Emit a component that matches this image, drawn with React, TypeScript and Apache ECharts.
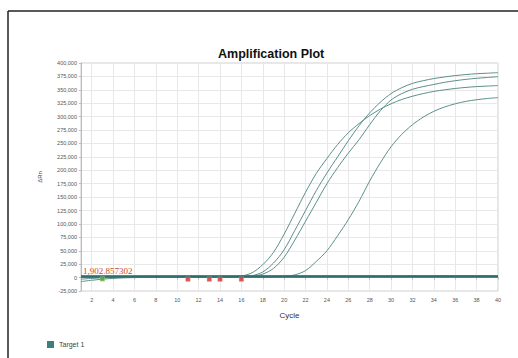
import React, { useEffect, useRef } from "react";
import * as echarts from "echarts";

const cycles = [1, 2, 3, 4, 5, 6, 7, 8, 9, 10, 11, 12, 13, 14, 15, 16, 17, 18, 19, 20, 21, 22, 23, 24, 25, 26, 27, 28, 29, 30, 31, 32, 33, 34, 35, 36, 37, 38, 39, 40];
const xTickLabels = [2, 4, 6, 8, 10, 12, 14, 16, 18, 20, 22, 24, 26, 28, 30, 32, 34, 36, 38, 40];

const curveA = [800, 900, 1000, 1000, 1100, 1000, 1100, 1200, 1100, 1200, 1200, 1300, 1300, 1400, 1500, 2800, 9000, 24000, 47000, 81000, 120000, 159000, 194000, 222000, 248000, 270000, 287000, 302000, 314000, 324000, 332000, 338000, 343000, 347000, 350000, 352500, 354500, 356000, 357000, 358000];
const curveB = [1200, 1300, 1300, 1400, 1400, 1400, 1500, 1500, 1400, 1500, 1500, 1500, 1600, 1500, 1500, 1700, 3500, 10500, 27000, 52000, 88000, 125000, 162000, 195000, 225000, 255000, 283000, 307000, 327000, 343000, 354000, 362000, 367000, 371000, 374000, 376500, 378500, 380000, 381000, 382000];
const curveC = [-3000, -1500, -600, -200, 200, 400, 500, 600, 700, 700, 800, 900, 900, 1000, 1100, 1300, 2500, 6500, 17000, 38000, 70000, 105000, 140000, 175000, 205000, 232000, 257000, 285000, 311000, 331000, 343000, 351000, 356000, 360000, 364000, 367000, 369500, 371500, 373000, 374500];
const curveD = [-7500, -5000, -3000, -1500, -500, 0, 200, 300, 300, 400, 500, 500, 600, 600, 700, 800, 900, 1100, 1400, 2200, 5000, 13000, 30000, 50000, 78000, 108000, 142000, 180000, 214000, 244000, 267000, 285000, 299000, 310000, 318000, 324000, 328500, 331500, 333800, 335500];
const flatWell1 = [1500, 1600, 1500, 1600, 1500, 1500, 1600, 1700, 1600, 1600, 1700, 1600, 1700, 1700, 1600, 1700, 1800, 1700, 1800, 1800, 1700, 1800, 1900, 1800, 1900, 1900, 1800, 1900, 2000, 1900, 2000, 2000, 1900, 2000, 2100, 2000, 2100, 2100, 2000, 2100];
const flatWell2 = [2600, 2700, 2700, 2800, 2700, 2800, 2800, 2900, 2800, 2900, 2900, 3000, 2900, 3000, 3000, 3100, 3000, 3100, 3100, 3200, 3100, 3200, 3200, 3300, 3200, 3300, 3300, 3400, 3300, 3400, 3400, 3500, 3400, 3500, 3500, 3500, 3600, 3500, 3600, 3600];

const threshold = 1902.857302;
const thresholdLabel = "1,902.857302";
const baselineEndCycles = [11, 13, 14, 16];
const baselineEndLevels = [-3000, -3000, -3000, -3000];
const baselineStartCycles = [3];
const baselineStartLevels = [-2500];

const curves = [curveA, curveB, curveC, curveD, flatWell1, flatWell2];

const CURVE_COLOR = "#5c8f8a";

export default function App() {
  const ref = useRef<HTMLDivElement>(null);

  useEffect(() => {
    if (!ref.current) return;
    const chart = echarts.init(ref.current, null, { renderer: "svg" });
    const lineSeries = curves.map((vals, i) => ({
      name: "Target 1",
      type: "line",
      data: cycles.map((c, j) => [c, vals[j]]),
      showSymbol: false,
      symbol: "none",
      lineStyle: { color: CURVE_COLOR, width: 1 },
      itemStyle: { color: "#3f7f7b" },
      smooth: 0.3,
      z: 2,
      markLine:
        i === 0
          ? {
              silent: true,
              symbol: "none",
              lineStyle: { color: "#2f6f6b", width: 2.5, type: "solid" },
              label: {
                show: true,
                position: "insideStartTop",
                formatter: thresholdLabel,
                color: "#cc4a22",
                fontFamily: "Liberation Serif",
                fontSize: 9,
                distance: [2, 1],
              },
              data: [{ yAxis: threshold }],
            }
          : undefined,
    }));

    chart.setOption({
      animation: false,
      backgroundColor: "#ffffff",
      textStyle: { fontFamily: "Liberation Sans, Arial, sans-serif" },
      title: {
        text: "Amplification Plot",
        left: 213,
        top: 42,
        textStyle: { fontSize: 12.5, fontWeight: "bold", color: "#111", fontFamily: "Liberation Sans" },
      },
      legend: {
        data: ["Target 1"],
        left: 42,
        top: 336,
        icon: "rect",
        itemWidth: 7,
        itemHeight: 7,
        itemGap: 4,
        textStyle: { fontSize: 7, color: "#444" },
      },
      grid: {
        left: 81,
        right: 20,
        top: 63,
        bottom: 67,
        show: true,
        borderColor: "#cfcfcf",
        borderWidth: 1,
      },
      xAxis: {
        type: "value",
        min: 1,
        max: 40,
        name: "Cycle",
        nameLocation: "middle",
        nameGap: 20,
        nameTextStyle: { fontSize: 8, color: "#333" },
        axisLine: { show: true, lineStyle: { color: "#bbbbbb" } },
        axisTick: { show: true, length: 2, customValues: xTickLabels, lineStyle: { color: "#bbbbbb" } },
        axisLabel: { customValues: xTickLabels, fontSize: 5.5, color: "#555", margin: 6 },
        splitLine: { show: true, lineStyle: { color: "#e8e8e8", width: 1 } },
      },
      yAxis: {
        type: "value",
        min: -25000,
        max: 400000,
        interval: 25000,
        name: "ΔRn",
        nameLocation: "middle",
        nameGap: 38,
        nameRotate: 90,
        nameTextStyle: { fontSize: 6, color: "#444" },
        axisLine: { show: true, lineStyle: { color: "#bbbbbb" } },
        axisTick: { show: true, length: 2, lineStyle: { color: "#bbbbbb" } },
        axisLabel: {
          fontSize: 5.5,
          color: "#555",
          margin: 4,
          formatter: (v: number) => v.toLocaleString("en-US"),
        },
        splitLine: { show: true, lineStyle: { color: "#e8e8e8", width: 1 } },
      },
      graphic: [
        { type: "line", shape: { x1: 8, y1: 11, x2: 518, y2: 11 }, style: { stroke: "#222", lineWidth: 1.5 } },
        { type: "line", shape: { x1: 8, y1: 11, x2: 8, y2: 358 }, style: { stroke: "#222", lineWidth: 1.5 } },
      ],
      series: [
        ...lineSeries,
        {
          name: "Baseline end",
          type: "scatter",
          symbol: "rect",
          symbolSize: 4.5,
          itemStyle: { color: "#d02a2a", borderColor: "#f4a0a0", borderWidth: 0.5 },
          data: baselineEndCycles.map((c, i) => [c, baselineEndLevels[i]]),
          z: 5,
        },
        {
          name: "Baseline start",
          type: "scatter",
          symbol: "rect",
          symbolSize: 4.5,
          itemStyle: { color: "#5aa03a", borderColor: "#a8d890", borderWidth: 0.5 },
          data: baselineStartCycles.map((c, i) => [c, baselineStartLevels[i]]),
          z: 5,
        },
      ],
    });
    return () => chart.dispose();
  }, []);

  return (
    <div
      ref={ref}
      style={{ position: "absolute", left: 0, top: 0, width: 518, height: 358 }}
    />
  );
}
